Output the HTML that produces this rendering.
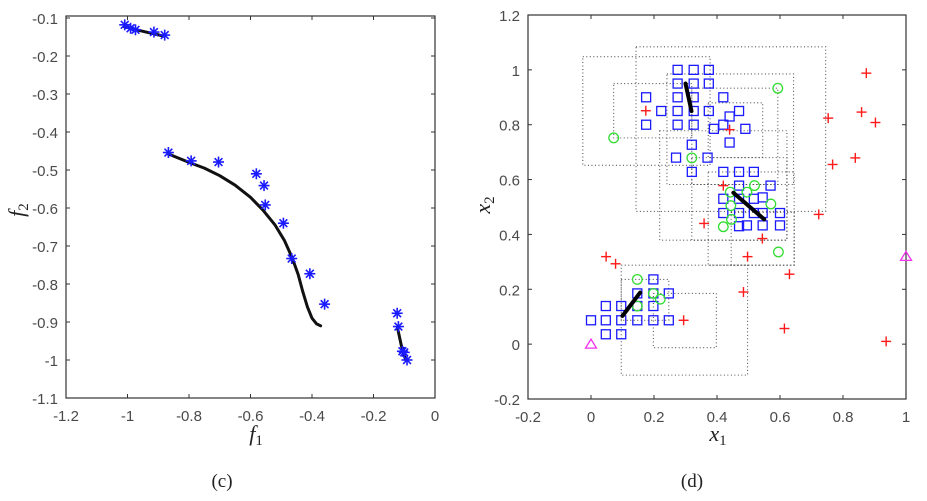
<!DOCTYPE html>
<html><head><meta charset="utf-8">
<style>
html,body{margin:0;padding:0;background:#fff;width:927px;height:501px;overflow:hidden}
svg{display:block}
.tk{font-family:"Liberation Sans",sans-serif;font-size:15px;fill:#4a4a4a}
.lab{font-family:"Liberation Serif",serif;font-style:italic;font-size:22px;fill:#222}
.cap{font-family:"Liberation Serif",serif;font-size:19px;fill:#222}
</style></head>
<body>
<svg id="chart" width="927" height="501" xmlns="http://www.w3.org/2000/svg"></svg>
<script>
// ---- panel (c) data ----
const cTopStars = [[-1.009,-0.118],[-0.99,-0.127],[-0.974,-0.131],[-0.914,-0.137],[-0.879,-0.145]];
const cMidStars = [[-0.867,-0.454],[-0.793,-0.476],[-0.704,-0.479],[-0.581,-0.51],[-0.556,-0.541],[-0.552,-0.592],[-0.493,-0.64],[-0.466,-0.733],[-0.407,-0.773],[-0.359,-0.853]];
const cLowStars = [[-0.123,-0.877],[-0.119,-0.912],[-0.106,-0.977],[-0.1,-0.98],[-0.091,-1.0]];
const cTopCurve = [[-1.01,-0.123],[-0.95,-0.135],[-0.88,-0.148]];
const cMidCurve = [[-0.867,-0.458],[-0.8,-0.48],[-0.75,-0.495],[-0.7,-0.515],[-0.65,-0.54],[-0.6,-0.572],[-0.56,-0.605],[-0.52,-0.645],[-0.49,-0.685],[-0.465,-0.73],[-0.445,-0.775],[-0.43,-0.82],[-0.415,-0.86],[-0.4,-0.89],[-0.385,-0.905],[-0.372,-0.91]];
const cLowCurve = [[-0.122,-0.915],[-0.11,-0.96],[-0.1,-0.99],[-0.094,-1.0]];
const cXTicks = [-1.2,-1,-0.8,-0.6,-0.4,-0.2,0];
const cYTicks = [-0.1,-0.2,-0.3,-0.4,-0.5,-0.6,-0.7,-0.8,-0.9,-1,-1.1];
// ---- panel (d) data ----
const dSquares = [[0.275,1],[0.326,1],[0.374,1],[0.275,0.95],[0.326,0.95],[0.374,0.95],
[0.175,0.9],[0.275,0.9],[0.326,0.9],[0.42,0.9],[0.223,0.85],[0.275,0.85],[0.326,0.85],[0.374,0.85],[0.47,0.85],[0.44,0.83],
[0.175,0.8],[0.275,0.8],[0.326,0.8],[0.42,0.8],[0.39,0.785],[0.49,0.785],[0.44,0.735],[0.32,0.727],[0.27,0.68],[0.37,0.68],
[0.32,0.628],[0.42,0.628],[0.47,0.628],[0.517,0.628],[0.47,0.578],[0.57,0.578],
[0.42,0.53],[0.47,0.53],[0.517,0.53],[0.545,0.535],[0.42,0.478],[0.47,0.478],[0.517,0.478],[0.545,0.478],[0.6,0.478],
[0.47,0.43],[0.495,0.433],[0.545,0.433],[0.6,0.433],
[0.198,0.236],[0.147,0.185],[0.198,0.185],[0.247,0.185],[0.047,0.139],[0.096,0.139],[0.147,0.139],[0.198,0.139],
[0,0.087],[0.047,0.087],[0.096,0.087],[0.147,0.087],[0.198,0.087],[0.247,0.087],[0.047,0.036],[0.096,0.036]];
const dCircles = [[0.593,0.933],[0.072,0.752],[0.32,0.679],[0.442,0.554],[0.495,0.554],[0.519,0.578],[0.444,0.505],[0.571,0.511],[0.446,0.455],[0.42,0.428],[0.595,0.336],[0.147,0.236],[0.198,0.185],[0.22,0.164],[0.147,0.139]];
const dPluses = [[0.174,0.851],[0.44,0.782],[0.42,0.578],[0.359,0.44],[0.544,0.385],[0.497,0.319],[0.048,0.319],[0.078,0.293],[0.63,0.255],[0.484,0.19],[0.294,0.087],[0.614,0.057],[0.723,0.473],[0.753,0.824],[0.767,0.655],[0.839,0.679],[0.859,0.846],[0.874,0.988],[0.903,0.808],[0.937,0.01]];
const dTriangles = [[0,0],[1,0.32]];
const dSegments = [[0.3,0.95,0.319,0.85],[0.452,0.552,0.55,0.455],[0.1,0.103,0.156,0.188]];
const dBoxes = [[-0.026,0.378,0.652,1.048],[0.143,0.745,0.484,1.084],[0.072,0.32,0.752,0.95],[0.32,0.593,0.582,0.933],[0.241,0.643,0.582,0.985],
[0.218,0.622,0.379,0.778],[0.372,0.545,0.68,0.88],[0.32,0.622,0.379,0.68],[0.372,0.645,0.288,0.628],[0.445,0.645,0.288,0.48],
[0.096,0.497,-0.113,0.288],[0.198,0.398,-0.013,0.185],[0.096,0.247,0.087,0.236]];
const dXTicks = [-0.2,0,0.2,0.4,0.6,0.8,1];
const dYTicks = [1.2,1,0.8,0.6,0.4,0.2,0,-0.2];

const NS="http://www.w3.org/2000/svg";
const svg=document.getElementById('chart');
function mk(tag,attrs,parent){const e=document.createElementNS(NS,tag);for(const k in attrs)e.setAttribute(k,attrs[k]);(parent||svg).appendChild(e);return e;}

// panel c scales
const cL=66,cR=435,cT=16,cB=398;
const cx=v=>cL+(v+1.2)/1.2*(cR-cL);
const cyy=v=>18+(-0.1-v)*(cB-18);
// panel d scales
const dL=528,dR=906,dT=15,dB=399;
const dx=v=>dL+(v+0.2)/1.2*(dR-dL);
const dy=v=>dB-(v+0.2)/1.4*(dB-dT);

function axes(L,R,T,B,xt,yt,sx,sy,name){
  const g=mk('g',{});
  
  
  const r=mk('rect',{x:L,y:T,width:R-L,height:B-T,fill:'none',stroke:'#333','stroke-width':1.2},g);
  
  
  xt.forEach(v=>{const x=sx(v);
    mk('line',{x1:x,x2:x,y1:B,y2:B-4,stroke:'#333'},g);mk('line',{x1:x,x2:x,y1:T,y2:T+4,stroke:'#333'},g);
    const t=mk('text',{x:x,y:B+23,'text-anchor':'middle',class:'tk'},g);t.textContent=String(v);
    
    });
  yt.forEach(v=>{const y=sy(v);
    mk('line',{x1:L,x2:L+4,y1:y,y2:y,stroke:'#333'},g);mk('line',{x1:R,x2:R-4,y1:y,y2:y,stroke:'#333'},g);
    const t=mk('text',{x:L-8,y:y+6,'text-anchor':'end',class:'tk'},g);t.textContent=String(v);
    
    });
}
axes(cL,cR,cT,cB,cXTicks,cYTicks,cx,cyy,'panel-c');
axes(dL,dR,dT,dB,dXTicks,dYTicks,dx,dy,'panel-d');

// panel c curves
[cTopCurve,cMidCurve,cLowCurve].forEach((arr,i)=>{
  const p=mk('polyline',{points:arr.map(d=>cx(d[0])+','+cyy(d[1])).join(' '),fill:'none',stroke:'#111','stroke-width':3,'stroke-linejoin':'round','stroke-linecap':'round'});
  
  
});
function star(x,y){const g=mk('g',{stroke:'#1a1aff','stroke-width':1.6});
  for(let a=0;a<180;a+=45){const r=a*Math.PI/180;mk('line',{x1:x-5.5*Math.cos(r),y1:y-5.5*Math.sin(r),x2:x+5.5*Math.cos(r),y2:y+5.5*Math.sin(r)},g);}
  return g;}
cTopStars.concat(cMidStars,cLowStars).forEach(d=>{const g=star(cx(d[0]),cyy(d[1]));
  
  });

// panel d
dBoxes.forEach(b=>{const r=mk('rect',{x:dx(b[0]),y:dy(b[3]),width:dx(b[1])-dx(b[0]),height:dy(b[2])-dy(b[3]),fill:'none',stroke:'#555','stroke-width':1.1,'stroke-dasharray':'1 2.5'});
  
  });
dSquares.forEach(d=>{const r=mk('rect',{x:dx(d[0])-4.5,y:dy(d[1])-4.5,width:9,height:9,fill:'none',stroke:'#1a1aff','stroke-width':1.3});
  
  });
dCircles.forEach(d=>{const c=mk('circle',{cx:dx(d[0]),cy:dy(d[1]),r:4.8,fill:'none',stroke:'#33dd33','stroke-width':1.3});
  
  });
dPluses.forEach(d=>{const x=dx(d[0]),y=dy(d[1]);const g=mk('g',{stroke:'#ff1a1a','stroke-width':1.4});
  mk('line',{x1:x-5,x2:x+5,y1:y,y2:y},g);mk('line',{x1:x,x2:x,y1:y-5,y2:y+5},g);
  
  });
dTriangles.forEach(d=>{const x=dx(d[0]),y=dy(d[1]);
  const p=mk('polygon',{points:`${x},${y-5} ${x-5.5},${y+4} ${x+5.5},${y+4}`,fill:'none',stroke:'#ee33ee','stroke-width':1.3});
  
  });
dSegments.forEach(s=>{const l=mk('line',{x1:dx(s[0]),y1:dy(s[1]),x2:dx(s[2]),y2:dy(s[3]),stroke:'#000','stroke-width':4,'stroke-linecap':'round'});
  
  });

// labels
function txt(x,y,s,cls,name,rot){const t=mk('text',{x:x,y:y,class:cls,'text-anchor':'middle'});if(rot)t.setAttribute('transform',`rotate(-90 ${x} ${y})`);t.innerHTML=s;
  
  }
txt(256,441,'f<tspan font-size="15" font-style="normal" dy="4">1</tspan>','lab','x-axis-title-c');
txt(24,210,'f<tspan font-size="15" font-style="normal" dy="4">2</tspan>','lab','y-axis-title-c',true);
txt(222,487,'(c)','cap','caption-c');
txt(718,441,'x<tspan font-size="15" font-style="normal" dy="4">1</tspan>','lab','x-axis-title-d');
txt(490,205,'x<tspan font-size="15" font-style="normal" dy="4">2</tspan>','lab','y-axis-title-d',true);
txt(692,487,'(d)','cap','caption-d');
</script>
</body></html>
